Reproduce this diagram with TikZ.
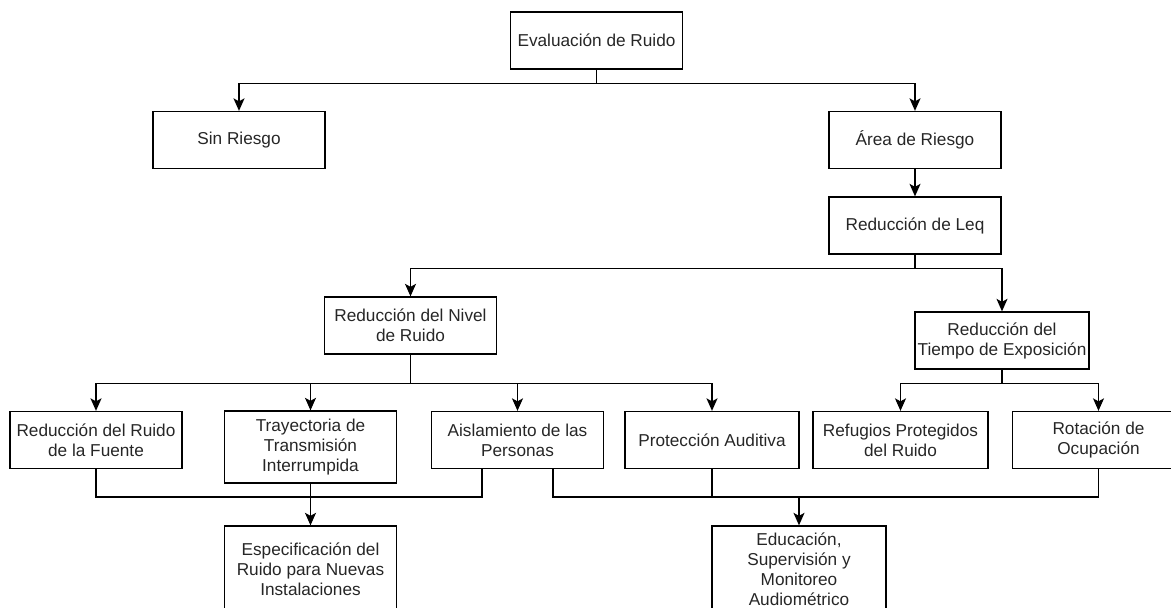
\documentclass[tikz,border=0pt]{standalone}
\usepackage{fontspec}
\setmainfont{Liberation Sans}
\usetikzlibrary{arrows.meta}

\begin{document}
\begin{tikzpicture}[x=0.02cm, y=-0.02cm, line width=0.75pt,
                    caja/.style = {draw, minimum width=3.44cm, minimum height=1.14cm, inner sep=1pt, align=center, text=black!85, font=\fontsize{9.8}{11.4}\selectfont},
                    flecha/.style = {-{Stealth[length=2.5mm, width=2.2mm, inset=0.6mm]}}]
                        \useasboundingbox (0,0) rectangle (1171,608);

                        \node[caja] (eval) at (596.5,40.5) {Evaluación de Ruido};
                        \node[caja] (sin) at (239,140) {Sin Riesgo};
                        \node[caja] (area) at (915,140) {Área de Riesgo};
                        \node[caja] (leq) at (915,225.5) {Reducción de Leq};
                        \node[caja] (nivel) at (410.5,325.5) {Reducción del Nivel\\de Ruido};
                        \node[caja, minimum width=3.48cm] (tiempo) at (1002,340.5) {Reducción del\\Tiempo de Exposición};

                        \node[caja] (fuente) at (96,440) {Reducción del Ruido\\de la Fuente};
                        \node[caja, minimum height=1.44cm] (tray) at (310.5,447) {Trayectoria de\\Transmisión\\Interrumpida};
                        \node[caja] (aisl) at (517.5,440) {Aislamiento de las\\Personas};
                        \node[caja, minimum width=3.48cm] (prot) at (712,440) {Protección Auditiva};
                        \node[caja, minimum width=3.5cm] (refug) at (900.5,440) {Refugios Protegidos\\del Ruido};
                        \node[caja] (rot) at (1098.5,440) {Rotación de\\Ocupación};

                        \node[caja, minimum height=1.72cm] (espec) at (310.5,569) {Especificación del\\Ruido para Nuevas\\Instalaciones};
                        \node[caja, minimum width=3.48cm, minimum height=1.72cm] (educ) at (799,569) {Educación,\\Supervisión y\\Monitoreo\\Audiométrico};

                        \draw[flecha] (eval.south) -- ++(0,14) -| (sin.north);
                        \draw[flecha] (eval.south) -- ++(0,14) -| (area.north);
                        \draw[flecha] (area) -- (leq);
                        \draw[flecha] (leq.south) -- ++(0,14) -| (nivel.north);
                        \draw[flecha] (leq.south) -- ++(0,14) -| (tiempo.north);

                        \draw[flecha] (nivel.south) -- ++(0,29) -| (fuente.north);
                        \draw[flecha] (nivel.south) -- ++(0,29) -| (tray.north);
                        \draw[flecha] (nivel.south) -- ++(0,29) -| (aisl.north);
                        \draw[flecha] (nivel.south) -- ++(0,29) -| (prot.north);
                        \draw[flecha] (tiempo.south) -- ++(0,14) -| (refug.north);
                        \draw[flecha] (tiempo.south) -- ++(0,14) -| (rot.north);

                        \draw (fuente.south) -- ++(0,28) -| ([xshift=-0.71cm]aisl.south);
                        \draw[flecha] (tray) -- (espec);
                        \draw ([xshift=0.71cm]aisl.south) -- ++(0,28) -| (rot.south);
                        \draw[flecha] (prot.south) -- ++(0,28) -| (educ.north);
                    \end{tikzpicture}
\end{document}
